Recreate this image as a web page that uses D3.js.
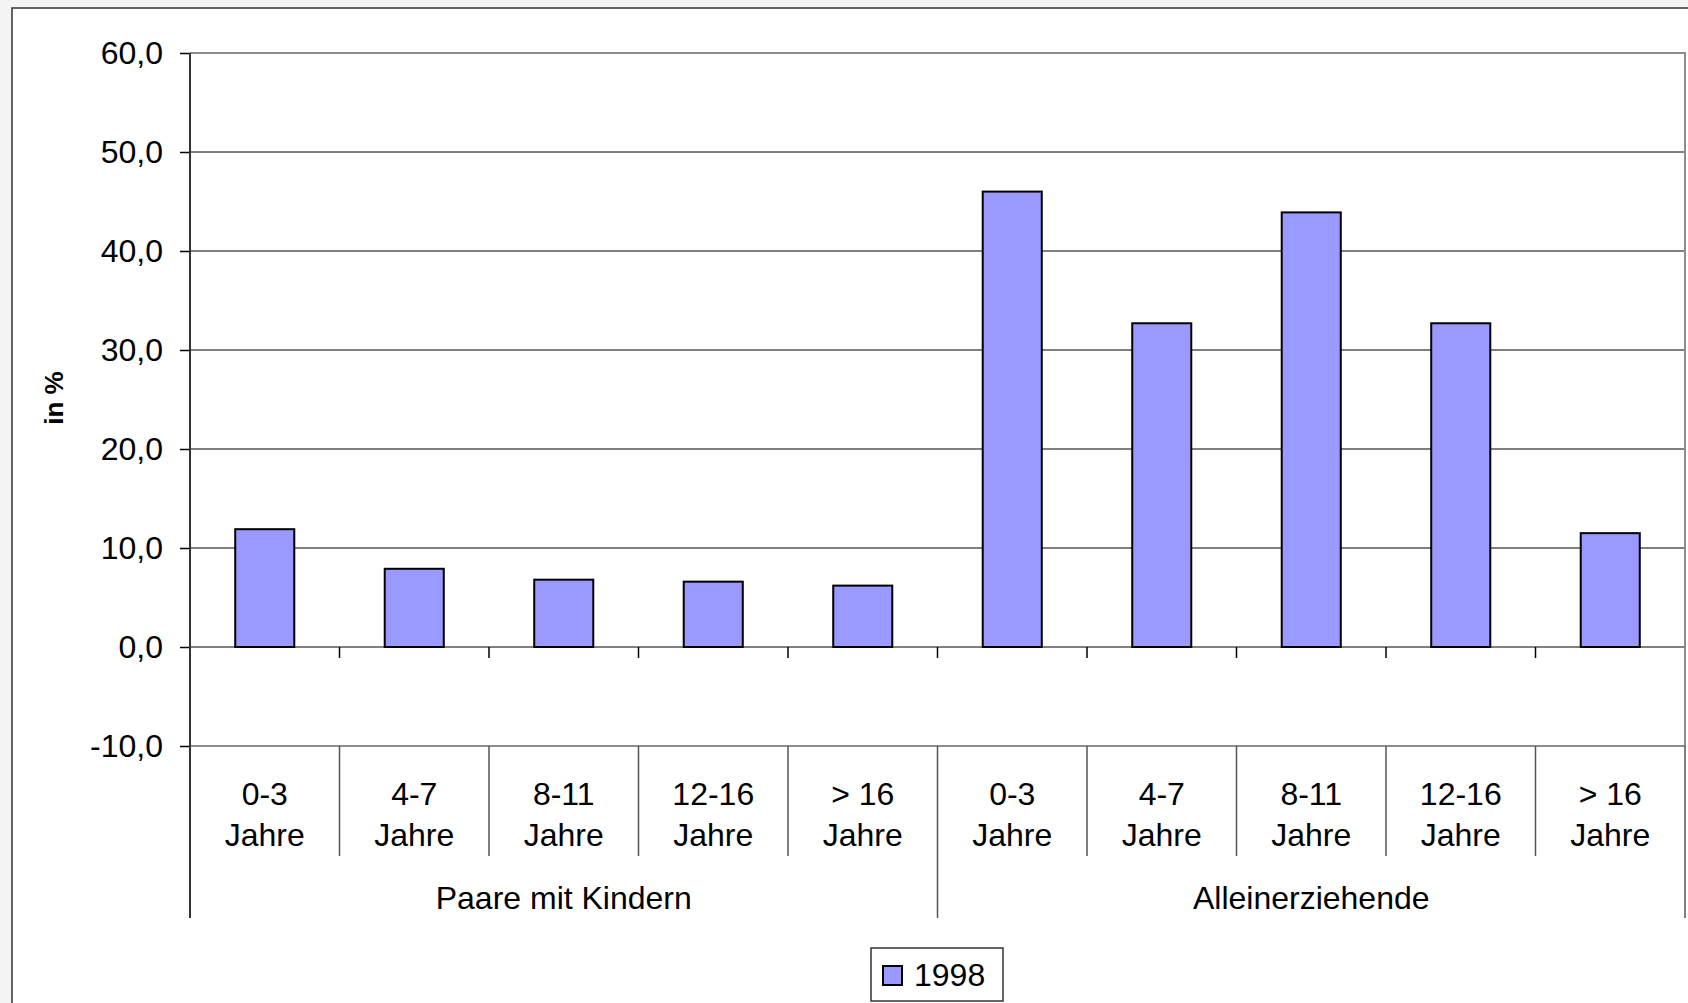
<!DOCTYPE html>
<html>
<head>
<meta charset="utf-8">
<script src="https://cdn.jsdelivr.net/npm/d3@7"></script>
<style>
  html, body { margin: 0; padding: 0; background: #f4f4f4; }
  svg { display: block; }
  text { font-family: "Liberation Sans", Arial, sans-serif; fill: #000; }
</style>
</head>
<body>
<script>
// ---- data ----
const groups = ["Paare mit Kindern", "Alleinerziehende"];
const ageLabels = ["0-3", "4-7", "8-11", "12-16", "> 16"];
const categories = [
  "P 0-3", "P 4-7", "P 8-11", "P 12-16", "P >16",
  "A 0-3", "A 4-7", "A 8-11", "A 12-16", "A >16"
];
const values1998 = [11.9, 7.9, 6.8, 6.6, 6.2, 46.0, 32.7, 43.9, 32.7, 11.5];
const yTicks = [-10, 0, 10, 20, 30, 40, 50, 60];
const seriesName = "1998";
const yLabel = "in %";

// ---- layout ----
const W = 1688, H = 1003;
const L = 190, R = 1685, T = 53, B = 746;
const fmt = v => d3.format(".1f")(v).replace(".", ",").replace("\u2212", "-");

const svg = d3.select("body").append("svg").attr("width", W).attr("height", H);

// outer frame
svg.append("rect").attr("x", 12).attr("y", 8).attr("width", W).attr("height", H)
  .attr("fill", "#fff").attr("stroke", "#333").attr("stroke-width", 1.5);

const x = d3.scaleBand().domain(categories).range([L, R]).paddingInner(0.605).paddingOuter(0.3025);
const step = x.step();
const y = d3.scaleLinear().domain([-10, 60]).range([B, T]);

// gridlines
svg.append("g").selectAll("line").data(yTicks.filter(v => v > 0 && v < 60)).join("line")
  .attr("x1", L).attr("x2", R).attr("y1", d => y(d)).attr("y2", d => y(d))
  .attr("stroke", "#000").attr("stroke-width", 1);

// plot border (top, right, bottom) gray
svg.append("path")
  .attr("d", `M${L},${y(60)}H${R}V${y(-10)}H${L}`)
  .attr("fill", "none").attr("stroke", "#8c8c8c").attr("stroke-width", 2);

// zero line
svg.append("line").attr("x1", L).attr("x2", R).attr("y1", y(0)).attr("y2", y(0))
  .attr("stroke", "#808080").attr("stroke-width", 2);

// bars
svg.append("g").selectAll("rect").data(values1998).join("rect")
  .attr("x", (d, i) => x(categories[i]))
  .attr("width", x.bandwidth())
  .attr("y", d => y(Math.max(0, d)))
  .attr("height", d => Math.abs(y(d) - y(0)))
  .attr("fill", "#9999ff").attr("stroke", "#000").attr("stroke-width", 2);

// x ticks at zero line
const boundaries = d3.range(1, categories.length).map(k => L + k * step);
svg.append("g").selectAll("line").data(boundaries).join("line")
  .attr("x1", d => d).attr("x2", d => d).attr("y1", y(0)).attr("y2", y(0) + 11)
  .attr("stroke", "#000").attr("stroke-width", 1.5);

// y axis
const yAxis = d3.axisLeft(y).tickValues(yTicks).tickFormat(fmt).tickSize(10).tickPadding(17);
const ya = svg.append("g").attr("transform", `translate(${L},0)`).call(yAxis);
ya.select(".domain").remove();
ya.selectAll(".tick line").attr("stroke", "#000").attr("stroke-width", 1.5);
ya.selectAll(".tick text").attr("font-size", 32).attr("font-family", "Liberation Sans, Arial, sans-serif").attr("fill", "#000");
svg.append("line").attr("x1", L).attr("x2", L).attr("y1", T).attr("y2", 918)
  .attr("stroke", "#333").attr("stroke-width", 2);

// category separators below plot
svg.append("g").selectAll("line").data(boundaries).join("line")
  .attr("x1", d => d).attr("x2", d => d)
  .attr("y1", B).attr("y2", (d, i) => (i + 1) % 5 === 0 ? 918 : 856)
  .attr("stroke", "#555").attr("stroke-width", 1.5);
svg.append("line").attr("x1", R).attr("x2", R).attr("y1", B).attr("y2", 918)
  .attr("stroke", "#555").attr("stroke-width", 1.5);

// category labels
const lbl = svg.append("g").attr("font-size", 32).attr("text-anchor", "middle");
categories.forEach((c, i) => {
  const cx = x(c) + x.bandwidth() / 2;
  lbl.append("text").attr("x", cx).attr("y", 805).text(ageLabels[i % 5]);
  lbl.append("text").attr("x", cx).attr("y", 846).text("Jahre");
});
groups.forEach((g, gi) => {
  const cx = L + (gi * 5 + 2.5) * step;
  lbl.append("text").attr("x", cx).attr("y", 909).text(g);
});

// y label
svg.append("text").attr("transform", "translate(63,398) rotate(-90)")
  .attr("text-anchor", "middle").attr("font-size", 26).attr("font-weight", "bold").text(yLabel);

// legend
const lg = svg.append("g");
lg.append("rect").attr("x", 871).attr("y", 948).attr("width", 132).attr("height", 53)
  .attr("fill", "#fff").attr("stroke", "#333").attr("stroke-width", 1.5);
lg.append("rect").attr("x", 883).attr("y", 966).attr("width", 19).attr("height", 19)
  .attr("fill", "#9999ff").attr("stroke", "#000").attr("stroke-width", 2);
lg.append("text").attr("x", 914).attr("y", 986).attr("font-size", 32).text(seriesName);
</script>
</body>
</html>
